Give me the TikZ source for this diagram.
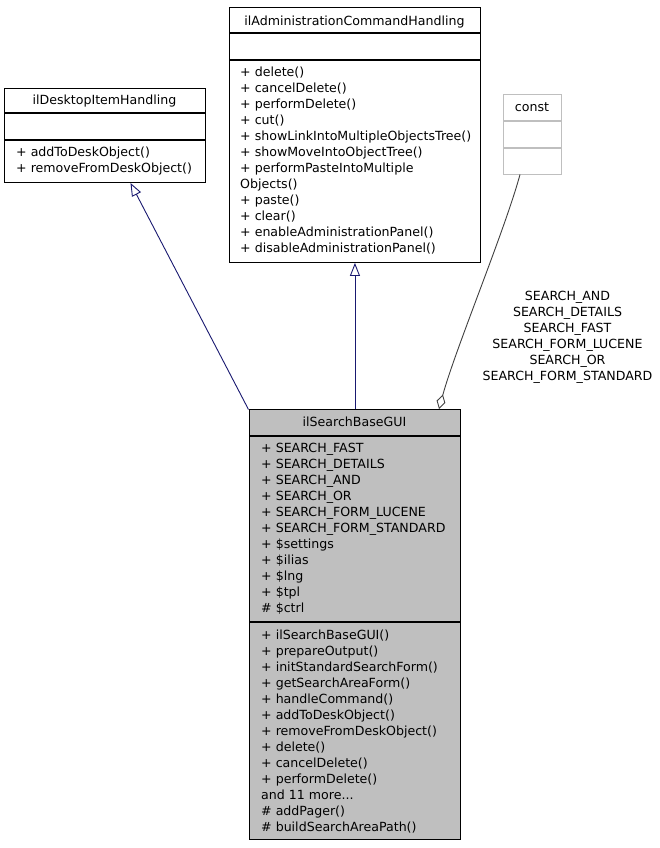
\documentclass[tikz,border=0pt]{standalone}
\usepackage{fontspec}
\setmainfont{DejaVu Sans}
\usetikzlibrary{arrows.meta}
\definecolor{edgeblue}{HTML}{191970}
\definecolor{edgegray}{HTML}{404040}
\definecolor{boxgray}{HTML}{BFBFBF}
\begin{document}
\begin{tikzpicture}[x=1pt,y=-1pt,
  font=\fontsize{12.6}{16}\selectfont,
  classbox/.style={draw=black, line width=0.9pt, inner sep=0pt, anchor=north west, fill=white},
  sepline/.style={draw=black, line width=1.3pt},
  member/.style={anchor=base west, inner sep=0pt},
  titletext/.style={anchor=base, inner sep=0pt},
  inherit/.style={draw=edgeblue, line width=0.9pt, -{Triangle[open,length=13pt,width=10pt]}},
  assoc/.style={draw=edgegray, line width=0.9pt, {Diamond[open,length=15pt,width=9pt]}-}]
\useasboundingbox (0,0) rectangle (660,848);

% ilDesktopItemHandling
\node[classbox, minimum width=201pt, minimum height=94pt] (dih) at (4,88) {};
\draw[sepline] (4,113) -- (205,113);
\draw[sepline] (4,140) -- (205,140);
\node[titletext] (dihT) at (104.5,104.5) {ilDesktopItemHandling};
\node[member] (dihM1) at (16,156.5) {+ addToDeskObject()};
\node[member] (dihM2) at (16,172) {+ removeFromDeskObject()};

% ilAdministrationCommandHandling
\node[classbox, minimum width=251pt, minimum height=255pt] (adm) at (229,7) {};
\draw[sepline] (229,33) -- (480,33);
\draw[sepline] (229,60) -- (480,60);
\node[titletext] (admT) at (354.5,25.5) {ilAdministrationCommandHandling};
\foreach \t [count=\i from 0] in {+ delete(), + cancelDelete(), + performDelete(), + cut(),
  + showLinkIntoMultipleObjectsTree(), + showMoveIntoObjectTree(), + performPasteIntoMultiple,
  Objects(), + paste(), + clear(), + enableAdministrationPanel(), + disableAdministrationPanel()}
  \node[member] (admM\i) at (240,76.5+16*\i) {\t};

% const
\node[classbox, draw=boxgray, minimum width=58pt, minimum height=80pt] (cst) at (503,94) {};
\draw[draw=boxgray, line width=1.3pt] (503,121) -- (561,121);
\draw[draw=boxgray, line width=1.3pt] (503,148) -- (561,148);
\node[titletext] (cstT) at (532,112) {const};

% ilSearchBaseGUI
\node[classbox, fill=boxgray, minimum width=211pt, minimum height=430pt] (sb) at (249,409) {};
\draw[sepline] (249,436) -- (460,436);
\draw[sepline] (249,622) -- (460,622);
\node[titletext] (sbT) at (354.5,426) {ilSearchBaseGUI};
\foreach \t [count=\i from 0] in {+ SEARCH\_FAST, + SEARCH\_DETAILS, + SEARCH\_AND, + SEARCH\_OR,
  + SEARCH\_FORM\_LUCENE, + SEARCH\_FORM\_STANDARD, + \$settings, + \$ilias, + \$lng, + \$tpl, \# \$ctrl}
  \node[member] (sbA\i) at (261,452+16*\i) {\t};
\foreach \t [count=\i from 0] in {+ ilSearchBaseGUI(), + prepareOutput(), + initStandardSearchForm(),
  + getSearchAreaForm(), + handleCommand(), + addToDeskObject(), + removeFromDeskObject(),
  + delete(), + cancelDelete(), + performDelete()}
  \node[member] (sbM\i) at (261,639+16*\i) {\t};
\node[member] (sbM10) at (261,799) {and 11 more...};
\node[member] (sbM11) at (261,815) {\# addPager()};
\node[member] (sbM12) at (261,831) {\# buildSearchAreaPath()};

% connectors
\coordinate (e1s) at (248.5,409.5);
\coordinate (e1t) at (130.5,183);
\draw[inherit] (e1s) -- (e1t);
\draw[inherit] (sb.north) -- (adm.south);
\coordinate (e3s) at (439,409);
\coordinate (e3t) at (520,174.5);
\draw[assoc] (e3s) .. controls (455,350) and (505,230) .. (e3t);

% association label
\foreach \t [count=\i from 0] in {SEARCH\_AND, SEARCH\_DETAILS, SEARCH\_FAST, SEARCH\_FORM\_LUCENE,
  SEARCH\_OR, SEARCH\_FORM\_STANDARD}
  \node[titletext] (lbl\i) at (567.5,300+16*\i) {\t};
\end{tikzpicture}
\end{document}
